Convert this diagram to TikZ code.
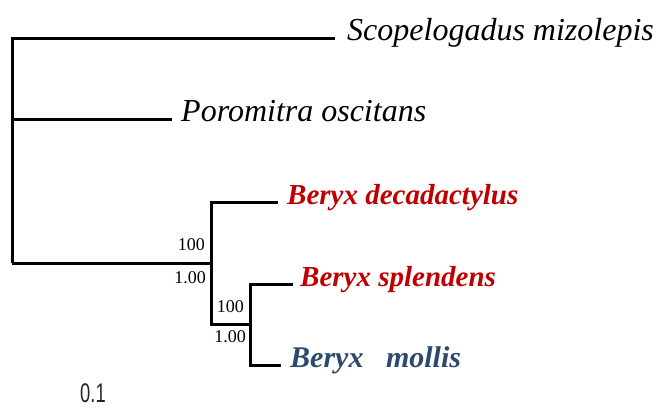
\documentclass[tikz,border=0pt]{standalone}
\usepackage{fontspec}
\setmainfont{Liberation Serif}
\newfontfamily\barfont{Liberation Sans}
\usepackage{xcolor}
\definecolor{BeryxRed}{HTML}{C00000}
\definecolor{BeryxBlue}{HTML}{2C4A6D}
\usetikzlibrary{positioning}

\begin{document}
\begin{tikzpicture}[x=1pt,y=-1pt,
  branch/.style={line width=3pt},
  taxon/.style={anchor=base west, inner sep=0pt, yshift=-2pt, font=\fontsize{32}{32}\selectfont\itshape},
  clade/.style={taxon, font=\fontsize{29}{29}\selectfont\bfseries\itshape},
  support/.style={anchor=base east, inner sep=0pt, font=\fontsize{18}{18}\selectfont}]
  \useasboundingbox (0,0) rectangle (658,410);
  % internal nodes
  \coordinate (root) at (12,263);
  \coordinate (rootmid) at (12,119);
  \coordinate (beryx) at (211,263);
  \coordinate (beryxlow) at (211,324);
  \coordinate (inner) at (250,324);
  \coordinate (innerlow) at (250,365);
  % tips
  \coordinate (scoptip) at (335,38);
  \coordinate (porotip) at (172,119);
  \coordinate (decatip) at (278,202);
  \coordinate (splentip) at (293,284);
  \coordinate (mollistip) at (281,365);
  % tree
  \draw[branch] (scoptip) -| (root);
  \draw[branch] (porotip) -- (rootmid);
  \draw[branch] (root) -- (beryx);
  \draw[branch] (decatip) -| (beryxlow) -- (inner);
  \draw[branch] (splentip) -| (innerlow) -- (mollistip);
  % labels
  \node[taxon, xshift=12pt] (scop) at (scoptip) {Scopelogadus mizolepis};
  \node[taxon, xshift=9pt] (poro) at (porotip) {Poromitra oscitans};
  \node[clade, xshift=9pt, BeryxRed] (deca) at (decatip) {Beryx decadactylus};
  \node[clade, xshift=7pt, BeryxRed] (splen) at (splentip) {Beryx splendens};
  \node[clade, xshift=9pt, BeryxBlue, font=\fontsize{30}{30}\selectfont\bfseries\itshape] (mollis) at (mollistip) {Beryx\ \ \ mollis};
  % support values
  \node[support] (bs1) at (205,250) {100};
  \node[support] (pp1) at (206,283) {1.00};
  \node[support] (bs2) at (244,312) {100};
  \node[support] (pp2) at (246,342) {1.00};
  % scale
  \node[anchor=base west, inner sep=0pt, text=black!85, font=\barfont\fontsize{27}{27}\selectfont] (scale) at (80,402) {\scalebox{0.68}[1]{0.1}};
\end{tikzpicture}
\end{document}
